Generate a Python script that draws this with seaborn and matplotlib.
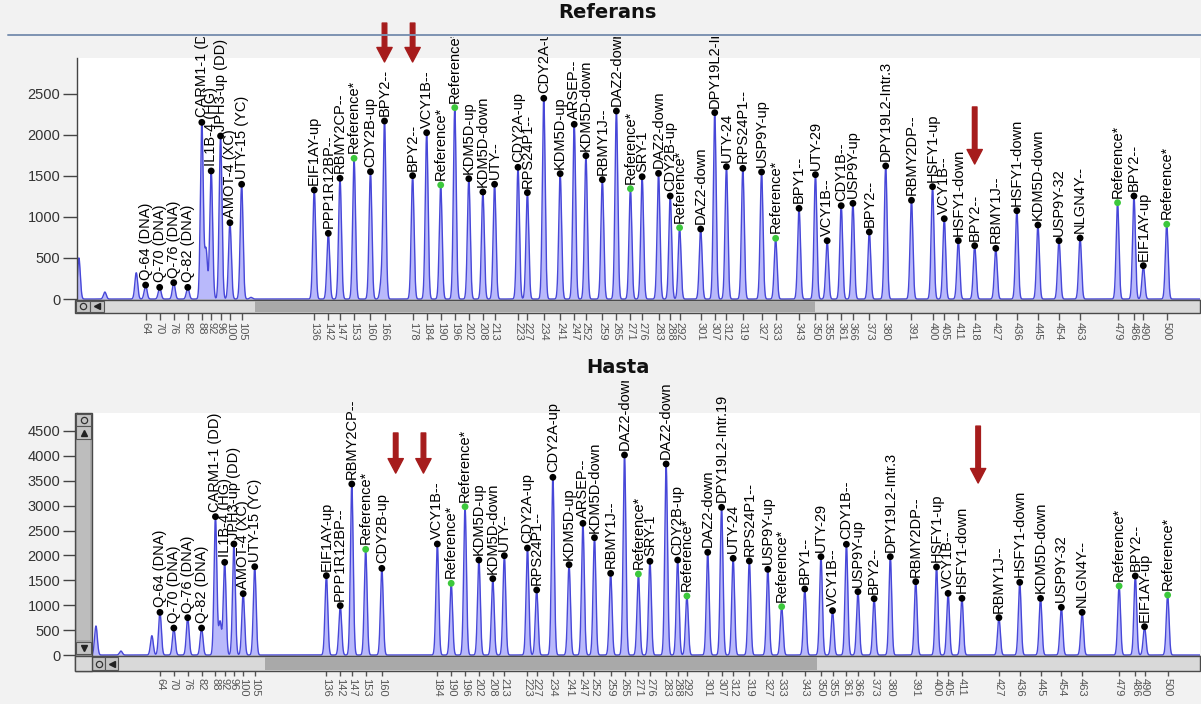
import numpy as np
import pandas as pd
import matplotlib
matplotlib.use("Agg")
import matplotlib.pyplot as plt
import seaborn as sns
from matplotlib.patches import Rectangle
from matplotlib.lines import Line2D

# ---------------------------------------------------------------- data
probe_size = [64, 70, 76, 82, 88, 92, 96, 100, 105, 136, 142, 147, 153, 160, 166, 178,
              184, 190, 196, 202, 208, 213, 223, 227, 234, 241, 247, 252, 259, 265, 271,
              276, 283, 288, 292, 301, 307, 312, 319, 327, 333, 343, 350, 355, 361, 366,
              373, 380, 391, 400, 405, 411, 418, 427, 436, 445, 454, 463, 479, 486, 490, 500]

probe_name = ["Q-64 (DNA)", "Q-70 (DNA)", "Q-76 (DNA)", "Q-82 (DNA)", "CARM1-1 (DD)",
              "IL1B-4 (HG)", "JPH3-up (DD)", "AMOT-4 (XC)", "UTY-15 (YC)", "EIF1AY-up",
              "PPP1R12BP--", "RBMY2CP--", "Reference*", "CDY2B-up", "BPY2--", "BPY2--",
              "VCY1B--", "Reference*", "Reference*", "KDM5D-up", "KDM5D-down", "UTY--",
              "CDY2A-up", "RPS24P1--", "CDY2A-up", "KDM5D-up", "ARSEP--", "KDM5D-down",
              "RBMY1J--", "DAZ2-down", "Reference*", "SRY-1", "DAZ2-down", "CDY2B-up",
              "Reference*", "DAZ2-down", "DPY19L2-Intr.19", "UTY-24", "RPS24P1--",
              "USP9Y-up", "Reference*", "BPY1--", "UTY-29", "VCY1B--", "CDY1B--",
              "USP9Y-up", "BPY2--", "DPY19L2-Intr.3", "RBMY2DP--", "HSFY1-up", "VCY1B--",
              "HSFY1-down", "BPY2--", "RBMY1J--", "HSFY1-down", "KDM5D-down", "USP9Y-32",
              "NLGN4Y--", "Reference*", "BPY2--", "EIF1AY-up", "Reference*"]

# peak heights (RFU); NaN = no peak detected
referans_rfu = [170, 142, 199, 142, 2151, 1559, 1985, 929, 1397, 1327, 800, 1470, 1713, 1550,
                2167, 1502, 2025, 1388, 2330, 1465, 1303, 1397, 1604, 1295, 2444, 1526, 2127,
                1745, 1453, 2289, 1343, 1489, 1530, 1254, 868, 852, 2269, 1611, 1591, 1546,
                739, 1104, 1514, 710, 1136, 1165, 816, 1620, 1202, 1368, 978, 710, 649, 617,
                1075, 901, 710, 743, 1173, 1254, 406, 910]

hasta_rfu = [857, 542, 750, 542, 2779, 1862, 2230, 1232, 1774, 1594, 991, 3435, 2123, 1741,
             np.nan, np.nan, 2230, 1440, 2979, 1908, 1533, 1995, 2149, 1306, 3570, 1814, 2645,
             2357, 1640, 4018, 1627, 1882, 3837, 1908, 1185, 2063, 2967, 1942, 1888, 1721,
             971, 1326, 1975, 891, 2224, 1272, 1131, 1975, 1473, 1768, 1239, 1138, np.nan,
             750, 1460, 1138, 958, 857, 1386, 1587, 569, 1205]

# unlabelled peaks (primer front, shoulders)
referans_extra_size = [35.5, 46.6, 60.0, 89.8, 109.0, 164.6]
referans_extra_rfu = [500, 85, 320, 600, 20, 190]
hasta_extra_size = [36.3, 47.1, 60.5, 90.0]
hasta_extra_rfu = [583, 80, 388, 670]

deleted_size = [166, 178, 418]

# ---------------------------------------------------------------- style
sns.set_style("white")
plt.rcParams["font.family"] = ["Liberation Sans", "DejaVu Sans"]

W, H = 1201, 704
BG = "#f2f2f2"
fig = plt.figure(figsize=(W / 100, H / 100), dpi=100, facecolor=BG)


def fx(x):
    return x / W


def fy(y):
    return 1 - y / H


def px_rect(x0, y0, x1, y1, **kw):
    r = Rectangle((fx(x0), fy(y1)), (x1 - x0) / W, (y1 - y0) / H,
                  transform=fig.transFigure, **kw)
    fig.add_artist(r)
    return r


def marker(x, y, m, size, **kw):
    fig.add_artist(Line2D([fx(x)], [fy(y)], marker=m, ms=size, ls="none",
                          transform=fig.transFigure, zorder=13, **kw))


def build_trace(sizes, heights, extra_s, extra_h, lo, hi, sigma=0.6):
    x = np.arange(lo, hi, 0.04)
    y = np.zeros_like(x)
    for s, h in zip(list(sizes) + list(extra_s), list(heights) + list(extra_h)):
        if np.isnan(h):
            continue
        y += h * np.exp(-0.5 * ((x - s) / sigma) ** 2)
    return pd.DataFrame({"size": x, "rfu": y})


def draw_panel(ax, heights, extra_s, extra_h, xlim, ylim, yticks, white_from,
               arrows):
    ax.set_facecolor("white")
    ax.add_patch(Rectangle((0, white_from), 1, 1 - white_from, transform=ax.transAxes,
                           fc=BG, ec="none", zorder=0.5))
    df = build_trace(probe_size, heights, extra_s, extra_h, xlim[0], xlim[1])
    ax.fill_between(df["size"], 0, df["rfu"], color="#b9b9fb", lw=0, zorder=1.5)
    sns.lineplot(data=df, x="size", y="rfu", ax=ax, color="#4747d8", lw=1.0,
                 estimator=None, sort=False, zorder=2)

    peaks = pd.DataFrame({"size": probe_size, "name": probe_name, "rfu": heights})
    peaks = peaks.dropna()
    peaks["kind"] = np.where(peaks["name"].str.startswith("Reference"), "ref", "probe")
    sns.scatterplot(data=peaks, x="size", y="rfu", hue="kind",
                    palette={"probe": "black", "ref": "#3cc83c"}, s=24,
                    edgecolor="none", legend=False, ax=ax, zorder=4)

    for s, n, h in zip(peaks["size"], peaks["name"], peaks["rfu"]):
        t = ax.annotate(n, xy=(s, h), xytext=(0, 3.5), textcoords="offset points",
                        rotation=90, ha="center", va="bottom", fontsize=10.5,
                        color="black", annotation_clip=False, zorder=5)
        t.set_clip_box(ax.bbox)

    ax.set_xlim(*xlim)
    ax.set_ylim(*ylim)
    ax.set_yticks(yticks)
    ax.set_yticklabels([str(v) for v in yticks])
    ax.set_xticks(list(peaks["size"]))
    ax.set_xticklabels([str(int(v)) for v in peaks["size"]], rotation=270)
    ax.tick_params(axis="y", length=10, width=1, color="#444", labelsize=10.5,
                   labelcolor="#333", pad=2, left=True)
    ax.tick_params(axis="x", length=14.5, width=1, color="#555", labelsize=8,
                   labelcolor="#555", pad=1, bottom=True)
    ax.set_xlabel("")
    ax.set_ylabel("")
    ax.grid(False)
    for side in ("top", "right"):
        ax.spines[side].set_visible(False)
    for side in ("left", "bottom"):
        ax.spines[side].set_color("#444")
        ax.spines[side].set_linewidth(1.0)
    ax.spines["left"].set_bounds(ylim[0], ylim[0] + (ylim[1] - ylim[0]) * white_from)

    xt = ax.get_xaxis_transform()
    for s, (tail, tip) in zip(deleted_size, arrows):
        ax.annotate("", xy=(s, tip), xytext=(s, tail), xycoords=xt, textcoords=xt,
                    annotation_clip=False,
                    arrowprops=dict(arrowstyle="simple,head_length=0.95,head_width=1.0,"
                                               "tail_width=0.3",
                                    color="#a61c1c", mutation_scale=11,
                                    shrinkA=0, shrinkB=0), zorder=6)


# ---------------------------------------------------------------- Referans
ax1 = fig.add_axes([fx(77), fy(300), (1200 - 77) / W, (300 - 37) / H])
draw_panel(ax1, np.array(referans_rfu, float), referans_extra_size, referans_extra_rfu,
           xlim=(34.7, 514.2), ylim=(-12, 3190), yticks=list(range(0, 2501, 500)),
           white_from=(300 - 58) / 263,
           arrows=[(1.053, 0.905), (1.053, 0.905), (0.734, 0.517)])

# ---------------------------------------------------------------- Hasta
ax2 = fig.add_axes([fx(77), fy(656), (1200 - 77) / W, (656 - 381) / H])
draw_panel(ax2, np.array(hasta_rfu, float), hasta_extra_size, hasta_extra_rfu,
           xlim=(28.1, 514.0), ylim=(-20, 5504), yticks=list(range(0, 4501, 500)),
           white_from=(656 - 413) / 275,
           arrows=[(0.811, 0.665), (0.811, 0.665), (0.836, 0.629)])

# ---------------------------------------------------------------- window chrome
fig.add_artist(Line2D([fx(8), fx(1201)], [fy(35), fy(35)], color="#7d93b2", lw=1.4,
                      transform=fig.transFigure, zorder=9))
fig.text(fx(607), fy(12), "Referans", ha="center", va="center", fontsize=14,
         fontweight="bold", family="DejaVu Sans", color="#111")
fig.text(fx(618), fy(367), "Hasta", ha="center", va="center", fontsize=14,
         fontweight="bold", family="DejaVu Sans", color="#111")

# horizontal scroll bar, Referans
px_rect(75, 300, 1200, 313, fc="#d9d9d9", ec="#4a4a4a", lw=1, zorder=10)
px_rect(255, 301, 815, 312, fc="#a9a9a9", ec="none", zorder=11)
px_rect(76, 301, 90, 312, fc="#c4c4c4", ec="#555", lw=0.8, zorder=12)
px_rect(90, 301, 104, 312, fc="#c4c4c4", ec="#555", lw=0.8, zorder=12)
marker(83, 306.5, "o", 4.5, mfc="none", mec="#333", mew=0.9)
marker(97, 306.5, "<", 4.5, mfc="#222", mec="#222")

# horizontal scroll bar, Hasta
px_rect(75, 656, 1200, 671, fc="#d9d9d9", ec="#4a4a4a", lw=1, zorder=10)
px_rect(265, 657, 817, 670, fc="#a9a9a9", ec="none", zorder=11)
px_rect(92, 657, 105, 670, fc="#c4c4c4", ec="#555", lw=0.8, zorder=12)
px_rect(105, 657, 118, 670, fc="#c4c4c4", ec="#555", lw=0.8, zorder=12)
marker(98.5, 663.5, "o", 4.5, mfc="none", mec="#333", mew=0.9)
marker(111.5, 663.5, "<", 4.5, mfc="#222", mec="#222")
px_rect(75, 656, 92, 671, fc="#d9d9d9", ec="#4a4a4a", lw=1, zorder=12)

# vertical scroll bar, Hasta
px_rect(75, 413, 92, 656, fc="#a9a9a9", ec="#4a4a4a", lw=1, zorder=10)
px_rect(77, 440, 90, 640, fc="#bdbdbd", ec="none", zorder=11)
px_rect(76, 414, 91, 426, fc="#c4c4c4", ec="#555", lw=0.8, zorder=12)
px_rect(76, 426, 91, 439, fc="#c4c4c4", ec="#555", lw=0.8, zorder=12)
px_rect(76, 642, 91, 654, fc="#c4c4c4", ec="#555", lw=0.8, zorder=12)
marker(83.5, 420, "o", 4.5, mfc="none", mec="#333", mew=0.9)
marker(83.5, 432.5, "^", 4.5, mfc="#222", mec="#222")
marker(83.5, 648, "v", 4.5, mfc="#222", mec="#222")

fig.savefig("out.png", dpi=100, facecolor=BG)
